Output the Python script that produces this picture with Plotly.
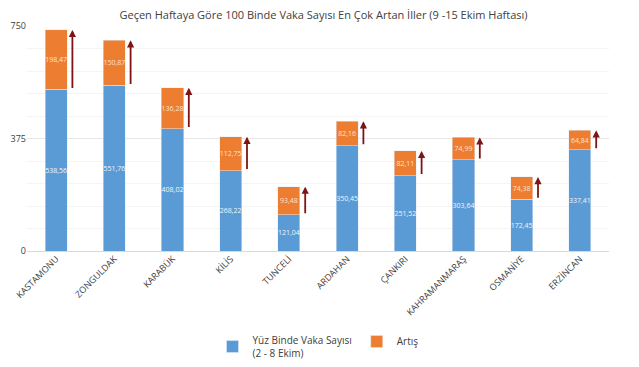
import plotly.graph_objects as go

provinces = ["KASTAMONU", "ZONGULDAK", "KARABÜK", "KİLİS", "TUNCELİ", "ARDAHAN",
             "ÇANKIRI", "KAHRAMANMARAŞ", "OSMANİYE", "ERZİNCAN"]
base_values = [538.56, 551.76, 408.02, 268.22, 121.04, 350.45, 251.52, 303.64, 172.45, 337.41]
increase_values = [198.47, 150.87, 136.28, 112.75, 93.48, 82.16, 82.11, 74.99, 74.38, 64.84]
y_ticks = [0, 375, 750]

def fmt(v):
    return f"{v:.2f}".replace(".", ",")

blue = "#5B9BD5"
orange = "#ED7D31"
arrow_col = "#7E1416"
font_family = "Open Sans, Noto Sans, sans-serif"

fig = go.Figure()
fig.add_trace(go.Bar(
    x=provinces, y=base_values, name="Yüz Binde Vaka Sayısı<br>(2 - 8 Ekim)",
    marker=dict(color=blue), width=0.38,
    text=[fmt(v) for v in base_values], textposition="inside", insidetextanchor="middle",
    textfont=dict(color="#eef5fb", size=7), textangle=0, constraintext="none",
))
fig.add_trace(go.Bar(
    x=provinces, y=increase_values, name="Artış",
    marker=dict(color=orange), width=0.38,
    text=[fmt(v) for v in increase_values], textposition="inside", insidetextanchor="middle",
    textfont=dict(color="#fbe3d3", size=7), textangle=0, constraintext="none",
))

for i, (b, inc) in enumerate(zip(base_values, increase_values)):
    fig.add_annotation(
        x=i + 0.28, y=b + inc, ax=i + 0.28, ay=b,
        xref="x", yref="y", axref="x", ayref="y",
        showarrow=True, arrowhead=2, arrowsize=0.8, arrowwidth=1.8,
        arrowcolor=arrow_col, text="",
    )

fig.update_layout(
    barmode="stack",
    width=631, height=359,
    margin=dict(l=19, r=30, t=18, b=116, autoexpand=False),
    paper_bgcolor="white", plot_bgcolor="white",
    font=dict(family=font_family, color="#404040", size=9),
    title=dict(text="Geçen Haftaya Göre 100 Binde Vaka Sayısı En Çok Artan İller (9 -15 Ekim Haftası)",
               x=0.5, xanchor="center", y=0.992, yanchor="top", pad=dict(t=0),
               font=dict(size=11, color="#404040")),
    legend=dict(orientation="h", x=0.5, xanchor="center", y=-0.338, yanchor="top",
                font=dict(size=10, color="#404040"), traceorder="normal"),
    bargap=0.62,
)
fig.update_xaxes(
    tickangle=-45, tickfont=dict(size=9, color="#404040"),
    showgrid=False, showline=False, ticks="", automargin=False,
)
fig.update_yaxes(
    range=[0, 750], tickvals=y_ticks, ticktext=[str(v) for v in y_ticks],
    tickfont=dict(size=9, color="#404040"),
    showgrid=True, gridcolor="#e6e6e6", gridwidth=1,
    minor=dict(dtick=75, showgrid=True, gridcolor="#f4f4f4"),
    zeroline=True, zerolinecolor="#d9d9d9", zerolinewidth=1,
    showline=False, ticks="", automargin=False,
)

fig.write_html("out.html")
